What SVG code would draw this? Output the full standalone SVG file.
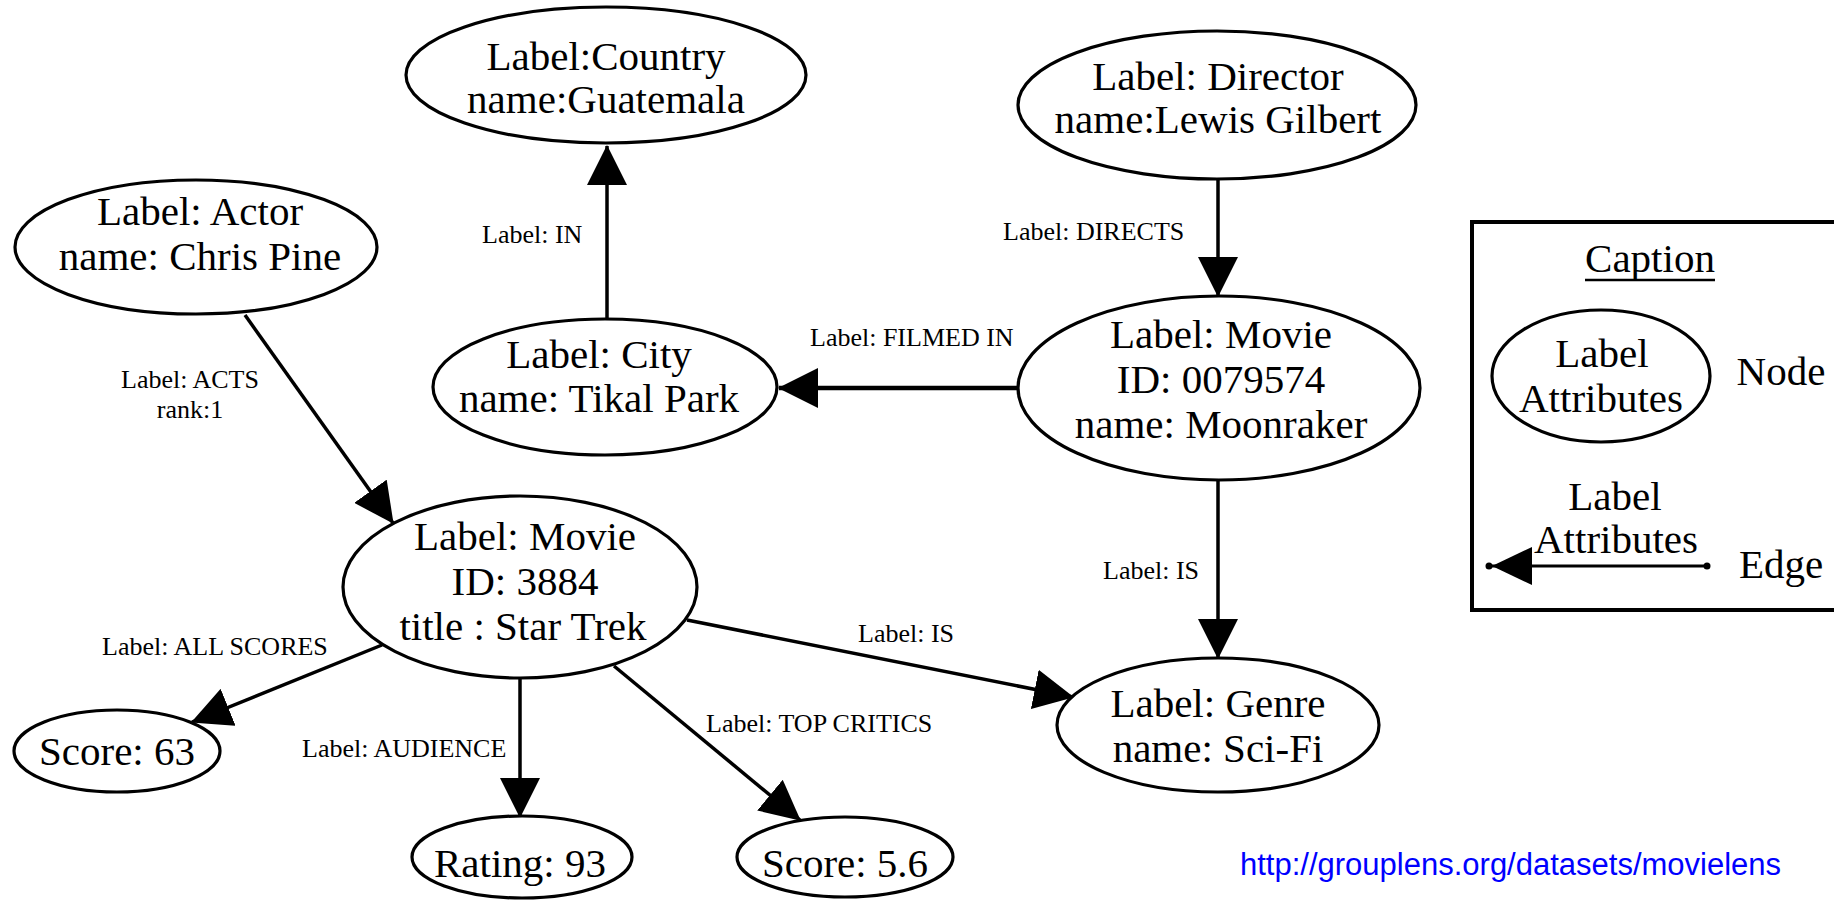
<svg xmlns="http://www.w3.org/2000/svg" width="1834" height="907" viewBox="0 0 1834 907">
<style>
  .node ellipse { fill: #ffffff; stroke: #000000; stroke-width: 3.2; }
  .nt { font-family: "Liberation Serif", "Times New Roman", serif; font-size: 41px; fill: #000000; text-anchor: middle; }
  .el { font-family: "Liberation Serif", "Times New Roman", serif; font-size: 26px; fill: #000000; }
  .edge { stroke: #000000; stroke-width: 3.5; fill: none; marker-end: url(#arrow); }
  .url { font-family: "Liberation Sans", Arial, sans-serif; font-size: 31px; fill: #0000ff; }
</style>
<defs>
  <marker id="arrow" markerUnits="userSpaceOnUse" markerWidth="40" markerHeight="40" viewBox="0 0 40 40" refX="39" refY="20" orient="auto">
    <path d="M0,0 L40,20 L0,40 z" fill="#000000"/>
  </marker>
</defs>
<rect x="0" y="0" width="1834" height="907" fill="#ffffff"/>

<g id="connectors">
  <line class="edge" x1="607" y1="318" x2="607" y2="146"/>
  <line class="edge" x1="245" y1="315" x2="393" y2="523"/>
  <line class="edge" x1="1018" y1="388" x2="779" y2="388" style="stroke-width:4.5"/>
  <line class="edge" x1="1218" y1="180" x2="1218" y2="296"/>
  <line class="edge" x1="1218" y1="480" x2="1218" y2="658"/>
  <line class="edge" x1="687" y1="620" x2="1073" y2="697"/>
  <line class="edge" x1="382" y1="645" x2="192" y2="722"/>
  <line class="edge" x1="520" y1="678" x2="520" y2="817"/>
  <line class="edge" x1="614" y1="666" x2="800" y2="820"/>
  <text class="el" x="482" y="243">Label: IN</text>
  <text class="el" x="190" y="388" text-anchor="middle">Label: ACTS</text>
  <text class="el" x="190" y="418" text-anchor="middle">rank:1</text>
  <text class="el" x="810" y="346">Label: FILMED IN</text>
  <text class="el" x="1003" y="240">Label: DIRECTS</text>
  <text class="el" x="1103" y="579">Label: IS</text>
  <text class="el" x="858" y="642">Label: IS</text>
  <text class="el" x="102" y="655">Label: ALL SCORES</text>
  <text class="el" x="302" y="757">Label: AUDIENCE</text>
  <text class="el" x="706" y="732">Label: TOP CRITICS</text>
</g>

<g id="country" class="node">
  <ellipse cx="606" cy="75" rx="200" ry="68"/>
  <text class="nt" x="606" y="70">Label:Country</text>
  <text class="nt" x="606" y="113">name:Guatemala</text>
</g>
<g id="city" class="node">
  <ellipse cx="605" cy="387" rx="172" ry="68"/>
  <text class="nt" x="599" y="368">Label: City</text>
  <text class="nt" x="599" y="412">name: Tikal Park</text>
</g>
<g id="actor" class="node">
  <ellipse cx="196" cy="247" rx="181" ry="67"/>
  <text class="nt" x="200" y="225">Label: Actor</text>
  <text class="nt" x="200" y="270">name: Chris Pine</text>
</g>
<g id="director" class="node">
  <ellipse cx="1217" cy="105" rx="199" ry="74"/>
  <text class="nt" x="1218" y="90">Label: Director</text>
  <text class="nt" x="1218" y="133">name:Lewis Gilbert</text>
</g>
<g id="moonraker" class="node">
  <ellipse cx="1219" cy="388" rx="201" ry="92"/>
  <text class="nt" x="1221" y="348">Label: Movie</text>
  <text class="nt" x="1221" y="393">ID: 0079574</text>
  <text class="nt" x="1221" y="438">name: Moonraker</text>
</g>
<g id="startrek" class="node">
  <ellipse cx="520" cy="587" rx="177" ry="91"/>
  <text class="nt" x="525" y="550">Label: Movie</text>
  <text class="nt" x="525" y="595">ID: 3884</text>
  <text class="nt" x="523" y="640">title : Star Trek</text>
</g>
<g id="genre" class="node">
  <ellipse cx="1218" cy="725" rx="161" ry="67"/>
  <text class="nt" x="1218" y="717">Label: Genre</text>
  <text class="nt" x="1218" y="762">name: Sci-Fi</text>
</g>
<g id="score63" class="node">
  <ellipse cx="117" cy="751" rx="103" ry="41"/>
  <text class="nt" x="117" y="765">Score: 63</text>
</g>
<g id="rating93" class="node">
  <ellipse cx="522" cy="857" rx="110" ry="41"/>
  <text class="nt" x="520" y="877">Rating: 93</text>
</g>
<g id="score56" class="node">
  <ellipse cx="845" cy="857" rx="108" ry="40"/>
  <text class="nt" x="845" y="877">Score: 5.6</text>
</g>

<g id="caption">
  <path d="M1840,222 H1472 V610 H1840" fill="none" stroke="#000000" stroke-width="4"/>
  <text class="nt" x="1650" y="272">Caption</text>
  <line x1="1585" y1="280" x2="1715" y2="280" stroke="#000000" stroke-width="2.5"/>
  <g id="caption-node" class="node">
    <ellipse cx="1601" cy="376" rx="109" ry="66"/>
    <text class="nt" x="1602" y="367">Label</text>
    <text class="nt" x="1601" y="412">Attributes</text>
  </g>
  <text class="nt" x="1781" y="385">Node</text>
  <text class="nt" x="1615" y="510">Label</text>
  <text class="nt" x="1616" y="553">Attributes</text>
  <line x1="1490" y1="566" x2="1707" y2="566" stroke="#000000" stroke-width="3"/>
  <path d="M1492,566 L1532,547 L1532,585 z" fill="#000000"/>
  <circle cx="1489" cy="566" r="3.5" fill="#000000"/>
  <circle cx="1707" cy="566" r="3.5" fill="#000000"/>
  <text class="nt" x="1781" y="578">Edge</text>
</g>

<text class="url" x="1240" y="875">http://grouplens.org/datasets/movielens</text>
</svg>
